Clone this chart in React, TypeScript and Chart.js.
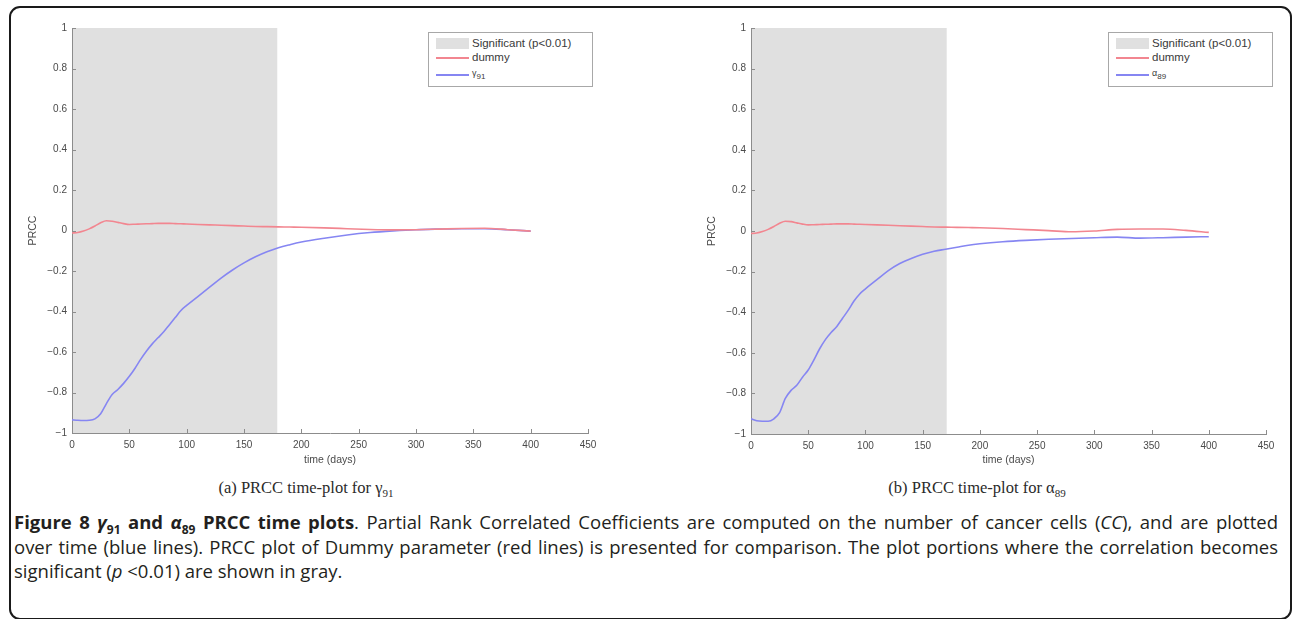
import React, { useEffect, useRef } from "react";
import { Chart, registerables } from "chart.js";

Chart.register(...registerables);

// ---- data ----
const timeDays = [0, 5, 10, 15, 20, 25, 30, 35, 40, 45, 50, 55, 60, 65, 70, 75, 80, 85, 90, 95, 100, 110, 120, 130, 140, 150, 160, 170, 180, 190, 200, 220, 240, 260, 280, 300, 320, 340, 360, 380, 400];

const gamma91Prcc = [-0.935, -0.937, -0.938, -0.937, -0.93, -0.905, -0.855, -0.81, -0.785, -0.755, -0.72, -0.68, -0.635, -0.595, -0.56, -0.53, -0.5, -0.465, -0.43, -0.395, -0.37, -0.325, -0.28, -0.235, -0.195, -0.16, -0.13, -0.105, -0.085, -0.07, -0.057, -0.038, -0.022, -0.01, -0.002, 0.004, 0.007, 0.009, 0.009, 0.004, -0.003];

const dummyPrccA = [-0.012, -0.01, -0.003, 0.008, 0.022, 0.038, 0.048, 0.046, 0.04, 0.034, 0.03, 0.031, 0.032, 0.033, 0.034, 0.035, 0.035, 0.035, 0.034, 0.033, 0.032, 0.03, 0.028, 0.026, 0.024, 0.022, 0.02, 0.019, 0.018, 0.017, 0.016, 0.013, 0.009, 0.005, 0.003, 0.004, 0.007, 0.01, 0.011, 0.004, -0.003];

const alpha89Prcc = [-0.925, -0.935, -0.937, -0.937, -0.925, -0.895, -0.825, -0.785, -0.76, -0.72, -0.685, -0.635, -0.58, -0.535, -0.5, -0.47, -0.43, -0.39, -0.345, -0.31, -0.285, -0.24, -0.195, -0.16, -0.135, -0.115, -0.1, -0.09, -0.08, -0.07, -0.063, -0.053, -0.046, -0.041, -0.037, -0.033, -0.03, -0.035, -0.033, -0.03, -0.028];

const dummyPrccB = [-0.012, -0.01, -0.003, 0.008, 0.022, 0.038, 0.048, 0.046, 0.04, 0.034, 0.03, 0.031, 0.032, 0.033, 0.034, 0.035, 0.035, 0.035, 0.034, 0.033, 0.032, 0.03, 0.028, 0.026, 0.024, 0.022, 0.02, 0.019, 0.018, 0.017, 0.016, 0.012, 0.007, 0.002, -0.004, 0.0, 0.008, 0.01, 0.01, 0.003, -0.007];

const significantEndA = 179;
const significantEndB = 171;

const xTickValues = [0, 50, 100, 150, 200, 250, 300, 350, 400, 450];
const yTickValues = [-1, -0.8, -0.6, -0.4, -0.2, 0, 0.2, 0.4, 0.6, 0.8, 1];

const xAxisTitle = "time (days)";
const yAxisTitle = "PRCC";
const legendSignificant = "Significant (p<0.01)";
const legendDummy = "dummy";

const RED = "rgb(242,134,144)";
const BLUE = "rgb(134,134,242)";
const SHADE = "#e0e0e0";
const AXIS = "#8c8c8c";
const TXT = "#4a4a4a";
const TICKFONT = { family: "'Liberation Sans', Arial, sans-serif", size: 10 };
const TITLEFONT = { family: "'Liberation Sans', Arial, sans-serif", size: 10.5 };

const shadePlugin = {
  id: "sigShade",
  beforeDraw(chart: any, _args: any, opts: any) {
    const { ctx, chartArea, scales } = chart;
    const x = scales.x;
    const x0 = x.getPixelForValue(0);
    const x1 = x.getPixelForValue(opts.end);
    ctx.save();
    ctx.fillStyle = SHADE;
    ctx.fillRect(x0, chartArea.top, x1 - x0, chartArea.bottom - chartArea.top);
    ctx.restore();
  },
  afterDraw(chart: any) {
    const { ctx, chartArea, scales } = chart;
    const x = scales.x;
    const y = scales.y;
    ctx.save();
    ctx.strokeStyle = AXIS;
    ctx.lineWidth = 1;
    ctx.beginPath();
    x.ticks.forEach((t: any) => {
      const px = Math.round(x.getPixelForValue(t.value)) + 0.5;
      ctx.moveTo(px, chartArea.bottom);
      ctx.lineTo(px, chartArea.bottom - 4);
    });
    y.ticks.forEach((t: any) => {
      const py = Math.round(y.getPixelForValue(t.value)) + 0.5;
      ctx.moveTo(chartArea.left, py);
      ctx.lineTo(chartArea.left + 4, py);
    });
    ctx.stroke();
    ctx.restore();
  },
};

type PanelProps = {
  left: number;
  width: number;
  height: number;
  padRight: number;
  xAxisHeight: number;
  blue: number[];
  red: number[];
  blueLabel: string;
  sigEnd: number;
};

function Panel(p: PanelProps) {
  const ref = useRef<HTMLCanvasElement | null>(null);
  useEffect(() => {
    if (!ref.current) return;
    const chart = new Chart(ref.current, {
      type: "line",
      data: {
        datasets: [
          {
            label: legendDummy,
            data: timeDays.map((t, i) => ({ x: t, y: p.red[i] })),
            borderColor: RED,
            borderWidth: 1.6,
            pointRadius: 0,
            cubicInterpolationMode: "monotone",
          },
          {
            label: p.blueLabel,
            data: timeDays.map((t, i) => ({ x: t, y: p.blue[i] })),
            borderColor: BLUE,
            borderWidth: 1.6,
            pointRadius: 0,
            cubicInterpolationMode: "monotone",
          },
        ],
      },
      options: {
        animation: false,
        responsive: false,
        maintainAspectRatio: false,
        layout: { padding: { left: 0, right: p.padRight, top: 28, bottom: 0 } },
        plugins: {
          legend: { display: false },
          tooltip: { enabled: false },
          sigShade: { end: p.sigEnd },
        } as any,
        scales: {
          x: {
            type: "linear",
            min: 0,
            max: 450,
            afterBuildTicks: (s: any) => {
              s.ticks = xTickValues.map((v) => ({ value: v }));
            },
            grid: { display: false, drawTicks: false },
            border: { display: true, color: AXIS, width: 1 },
            ticks: { padding: 6, color: TXT, font: TICKFONT, maxRotation: 0, autoSkip: false },
            title: {
              display: true,
              text: xAxisTitle,
              color: TXT,
              font: TITLEFONT,
              padding: { top: 0, bottom: 8.7 },
            },
            afterFit: (s: any) => {
              s.height = p.xAxisHeight;
            },
          },
          y: {
            type: "linear",
            min: -1,
            max: 1,
            afterBuildTicks: (s: any) => {
              s.ticks = yTickValues.map((v) => ({ value: v }));
            },
            grid: { display: false, drawTicks: false },
            border: { display: true, color: AXIS, width: 1 },
            ticks: {
              padding: 5,
              color: TXT,
              font: TICKFONT,
              autoSkip: false,
              callback: (v: any) => {
                const n = Math.round(Number(v) * 10) / 10;
                return n === 0 ? "0" : String(n).replace("-", "\u2212");
              },
            },
            title: {
              display: true,
              text: yAxisTitle,
              color: TXT,
              font: TITLEFONT,
              padding: { top: 26.7, bottom: 0 },
            },
            afterFit: (s: any) => {
              s.width = 72;
            },
          },
        },
      } as any,
      plugins: [shadePlugin],
    });
    return () => chart.destroy();
  }, []);
  return (
    <canvas
      ref={ref}
      width={p.width}
      height={p.height}
      style={{ position: "absolute", left: p.left, top: 0, width: p.width, height: p.height }}
    />
  );
}

function Legend({ left, sym, sub }: { left: number; sym: string; sub: string }) {
  const font = "'Liberation Sans', Arial, sans-serif";
  const txt: React.CSSProperties = {
    position: "absolute",
    left: 43,
    fontFamily: font,
    fontSize: 11.5,
    color: "#3a3a3a",
    whiteSpace: "nowrap",
    lineHeight: "13px",
  };
  return (
    <div
      style={{
        position: "absolute",
        left,
        top: 32,
        width: 165,
        height: 55,
        boxSizing: "border-box",
        border: "1px solid #a8a8a8",
        background: "#fff",
      }}
    >
      <div style={{ position: "absolute", left: 7, top: 5, width: 33, height: 11, background: SHADE }} />
      <div style={{ ...txt, top: 4 }}>{legendSignificant}</div>
      <div style={{ position: "absolute", left: 7, top: 24, width: 33, height: 1.6, background: RED }} />
      <div style={{ ...txt, top: 18 }}>{legendDummy}</div>
      <div style={{ position: "absolute", left: 7, top: 41, width: 33, height: 1.6, background: BLUE }} />
      <div style={{ ...txt, top: 34, fontSize: 9 }}>
        {sym}
        <sub style={{ fontSize: 8 }}>{sub}</sub>
      </div>
    </div>
  );
}

export default function App() {
  const sans = "'Open Sans', 'Noto Sans', sans-serif";
  const serif = "'Liberation Serif', 'DejaVu Serif', serif";
  const capLine: React.CSSProperties = {
    textAlign: "justify",
    textAlignLast: "justify" as any,
    height: 24.5,
    lineHeight: "24.5px",
    whiteSpace: "nowrap",
    wordSpacing: -3,
  };
  const subStyle: React.CSSProperties = { fontSize: 12 };
  return (
    <div
      style={{
        position: "absolute",
        left: 0,
        top: 0,
        width: 1292,
        height: 619,
        overflow: "hidden",
        background: "#fff",
      }}
    >
      <div
        style={{
          position: "absolute",
          left: 9,
          top: 6,
          width: 1283,
          height: 614,
          boxSizing: "border-box",
          border: "2px solid #1a1a1a",
          borderRadius: 11,
        }}
      />
      <Panel
        left={0}
        width={640}
        height={475}
        padRight={52}
        xAxisHeight={42}
        blue={gamma91Prcc}
        red={dummyPrccA}
        blueLabel="γ91"
        sigEnd={significantEndA}
      />
      <Panel
        left={679}
        width={613}
        height={475}
        padRight={26}
        xAxisHeight={41}
        blue={alpha89Prcc}
        red={dummyPrccB}
        blueLabel="α89"
        sigEnd={significantEndB}
      />
      <Legend left={428} sym="γ" sub="91" />
      <Legend left={1108} sym="α" sub="89" />

      <div
        style={{
          position: "absolute",
          left: 156,
          width: 300,
          top: 478,
          textAlign: "center",
          fontFamily: serif,
          fontSize: 16.5,
          color: "#2a2a2a",
          whiteSpace: "nowrap",
        }}
      >
        (a) PRCC time-plot for γ<sub style={{ fontSize: 11 }}>91</sub>
      </div>
      <div
        style={{
          position: "absolute",
          left: 827,
          width: 300,
          top: 478,
          textAlign: "center",
          fontFamily: serif,
          fontSize: 16.5,
          color: "#2a2a2a",
          whiteSpace: "nowrap",
        }}
      >
        (b) PRCC time-plot for α<sub style={{ fontSize: 11 }}>89</sub>
      </div>

      <div
        style={{
          position: "absolute",
          left: 14,
          top: 510,
          width: 1264,
          fontFamily: sans,
          fontSize: 18.5,
          color: "#231f20",
        }}
      >
        <div style={capLine}>
          <b>
            Figure 8 <i>γ</i>
            <sub style={subStyle}>91</sub> and <i>α</i>
            <sub style={subStyle}>89</sub> PRCC time plots
          </b>
          . Partial Rank Correlated Coefficients are computed on the number of cancer cells (<i>CC</i>), and are plotted
        </div>
        <div style={capLine}>
          over time (blue lines). PRCC plot of Dummy parameter (red lines) is presented for comparison. The plot portions where the correlation becomes
        </div>
        <div style={{ height: 24.5, lineHeight: "24.5px", whiteSpace: "nowrap" }}>
          significant (<i>p</i> &lt;0.01) are shown in gray.
        </div>
      </div>
    </div>
  );
}
